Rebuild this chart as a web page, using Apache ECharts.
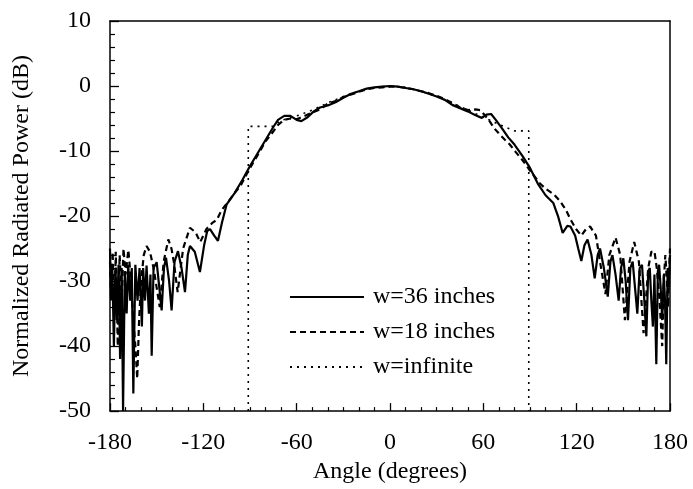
<!DOCTYPE html>
<html>
<head>
<meta charset="utf-8">
<script src="https://cdn.jsdelivr.net/npm/echarts@6/dist/echarts.min.js"></script>
<style>
html,body{margin:0;padding:0;background:#fff;}
#c{width:693px;height:489px;}
</style>
</head>
<body>
<div id="c"></div>
<script>
// Angle (deg), normalized power (dB)
var seriesNames = ['w=36 inches', 'w=18 inches', 'w=infinite'];
var xTicks = [-180, -120, -60, 0, 60, 120, 180];
var yTicks = [-50, -40, -30, -20, -10, 0, 10];

var w36 = [
  [-180,-25],[-179.3,-33],[-178.5,-28],[-177.5,-40],[-176.5,-28],[-175.5,-36],[-174.5,-27.5],
  [-173.5,-42],[-172.5,-28],[-171.6,-50],[-170.5,-28.5],[-169.3,-35],[-168.3,-27.5],[-167,-33],
  [-166,-28],[-165,-47.3],[-163.7,-27.5],[-162.3,-33],[-161,-28],[-159.5,-37],[-158.7,-28],
  [-157.5,-33],[-156.5,-27.6],[-155,-35],[-154,-29],[-153.2,-41.5],[-152,-28],[-150,-27.1],
  [-148.3,-31],[-146.8,-34.5],[-145.3,-28],[-144,-26.4],[-142,-30],[-140.4,-34.5],[-138.5,-27],
  [-136.3,-25.4],[-134,-28],[-131.8,-31.7],[-130,-26],[-128.6,-24.6],[-125.5,-25.5],
  [-122.2,-28.6],[-119.5,-24.5],[-117.5,-22.3],[-115.7,-22],[-113,-23],[-110.6,-23.8],
  [-108,-21],[-105,-18.2],[-100,-16.5],[-95,-14.5],[-90,-12.3],[-85,-10.3],[-80,-8.3],
  [-75,-6.3],[-72,-5.2],[-68,-4.6],[-64,-4.6],[-60,-5.2],[-57,-5.4],[-53,-4.8],[-49,-3.9],
  [-45,-3.3],[-40,-3.0],[-35,-2.5],[-30,-1.8],[-25,-1.2],[-20,-0.8],[-15,-0.4],[-10,-0.2],
  [-5,-0.1],[0,0],[5,-0.1],[10,-0.3],[15,-0.5],[20,-0.8],[25,-1.2],[30,-1.6],[35,-2.1],
  [40,-2.9],[45,-3.4],[50,-3.9],[55,-4.5],[59,-4.9],[62,-4.4],[65,-4.3],[68,-5.2],[72,-6.5],
  [76,-7.9],[80,-9.0],[85,-10.7],[90,-12.6],[95,-15],[100,-16.8],[105,-18],[108,-20],
  [111,-22.6],[114,-21.5],[116,-21.6],[119,-23],[121,-25],[123,-26.9],[125,-24.5],[127,-23.6],
  [129.5,-26],[131.6,-29.6],[133.5,-26],[135,-25],[137.5,-28],[140,-32.4],[141.7,-27],[143,-26],
  [145,-29],[147,-33],[148.5,-28],[150,-26.5],[151.5,-30],[153,-36],[154.5,-28],[156,-27],
  [157.5,-31],[159,-35],[160.5,-28],[162,-27.5],[163.5,-33],[164.8,-38.5],[166,-28.5],[167,-28],
  [168,-33],[169,-37],[170,-29],[171.2,-42.8],[172.2,-28.5],[173,-27.5],[174,-31],[175,-36],
  [176,-29],[176.8,-33],[177.6,-42.8],[178.5,-28],[179.3,-31],[180,-26]
];

var w18 = [
  [-180,-27],[-179.2,-33],[-178.3,-25.5],[-177.2,-36],[-176.3,-25.5],[-175,-40],[-173.8,-26],
  [-172.5,-33],[-171.3,-25],[-170,-29],[-168.2,-25.2],[-166.5,-30],[-165,-36],[-163.7,-40],
  [-162.5,-45],[-161.3,-36],[-160,-30],[-158.3,-26],[-156.5,-24.6],[-154.3,-25.5],[-152,-28],
  [-150,-31],[-148,-34],[-145.5,-27],[-142.5,-23.6],[-140.5,-25],[-139,-27],[-136.5,-31.7],
  [-133,-25],[-128.6,-21.8],[-125,-22.5],[-122,-24],[-118,-22],[-114,-21],[-111.4,-20.6],
  [-108,-19],[-104,-17.8],[-100,-16.5],[-96,-15.3],[-92,-13.5],[-88,-11.8],[-84,-10.2],
  [-80,-8.5],[-76,-7.3],[-72,-6],[-68,-5.2],[-64,-5],[-60,-5.1],[-55,-4.6],[-50,-4.1],
  [-45,-3.6],[-40,-2.7],[-35,-2.3],[-30,-1.7],[-25,-1.3],[-20,-0.9],[-15,-0.5],[-10,-0.3],
  [-5,-0.2],[0,-0.1],[5,-0.1],[10,-0.3],[15,-0.5],[20,-0.8],[25,-1.1],[30,-1.5],[35,-2.0],
  [40,-2.6],[45,-3.3],[50,-3.7],[55,-3.6],[58,-3.7],[61,-4.5],[64,-5.4],[67,-6.5],[70.7,-7.5],
  [74,-8.3],[77,-9],[81,-10.2],[85.5,-11.5],[90,-13],[96.4,-15],[100,-15.8],[105,-16.6],
  [109,-17.6],[113,-19],[116,-20.5],[119.6,-22],[123,-23],[126,-22],[128.6,-21.6],[131,-22.5],
  [132.4,-23],[135,-27],[138.5,-32],[141,-26],[145,-23.3],[148,-26],[151,-36],[154,-27],
  [157,-24],[160,-27],[163,-38],[166,-28],[168,-25.5],[170,-25.4],[171.5,-28],[173,-32],
  [174,-36],[175,-40],[176,-30],[177,-26],[178,-30],[178.8,-34],[179.5,-28],[180,-25]
];

var wInf = [
  [-91.1,-50],[-91.1,-6.2],[-75,-6.2],[-70,-5.3],[-60,-4.6],[-50,-3.7],[-40,-2.6],[-30,-1.6],
  [-20,-0.8],[-10,-0.2],[0,0],[10,-0.2],[20,-0.8],[30,-1.6],[40,-2.6],[50,-3.7],[60,-4.8],
  [70,-5.9],[80,-6.9],[89.2,-6.9],[89.2,-50]
];

var FONT = 'Liberation Serif';
var chart = echarts.init(document.getElementById('c'));
var common = {type:'line', symbol:'none', showSymbol:false, clip:true, animation:false};
chart.setOption({
  backgroundColor:'#fff',
  animation:false,
  grid:{left:110, right:23, top:21, bottom:72, show:false},
  legend:{
    orient:'vertical', left:284, top:280, itemWidth:74, itemHeight:14, itemGap:11,
    data:seriesNames,
    itemStyle:{opacity:0},
    textStyle:{fontFamily:FONT, fontSize:24, color:'#000', lineHeight:24, padding:[0,0,0,4]}
  },
  xAxis:[{
    type:'value', min:-180, max:180, interval:60,
    name:'Angle (degrees)', nameLocation:'middle', nameGap:43,
    nameTextStyle:{fontFamily:FONT, fontSize:24, color:'#000'},
    axisLine:{show:true, onZero:false, lineStyle:{color:'#000', width:1.5}},
    axisTick:{show:true, inside:true, length:8, lineStyle:{color:'#000', width:1.3}},
    minorTick:{show:true, splitNumber:6, length:4, lineStyle:{color:'#000', width:1.2}},
    axisLabel:{fontFamily:FONT, fontSize:24, color:'#000', margin:20,
      customValues: xTicks},
    splitLine:{show:false}
  },{
    type:'value', position:'top', min:-180, max:180, interval:60,
    axisLine:{show:true, onZero:false, lineStyle:{color:'#000', width:1.5}},
    axisTick:{show:false}, axisLabel:{show:false}, splitLine:{show:false}
  }],
  yAxis:[{
    type:'value', min:-50, max:10, interval:10,
    name:'Normalized Radiated Power (dB)', nameLocation:'middle', nameGap:76, nameRotate:90,
    nameTextStyle:{fontFamily:FONT, fontSize:24, color:'#000'},
    axisLine:{show:true, onZero:false, lineStyle:{color:'#000', width:1.5}},
    axisTick:{show:true, inside:true, length:9, lineStyle:{color:'#000', width:1.3}},
    minorTick:{show:true, splitNumber:5, length:5, lineStyle:{color:'#000', width:1.2}},
    axisLabel:{fontFamily:FONT, fontSize:24, color:'#000', margin:19,
      customValues: yTicks},
    splitLine:{show:false}
  },{
    type:'value', position:'right', min:-50, max:10, interval:10,
    axisLine:{show:true, onZero:false, lineStyle:{color:'#000', width:1.5}},
    axisTick:{show:false}, axisLabel:{show:false}, splitLine:{show:false}
  }],
  series:[
    Object.assign({name:seriesNames[0], data:w36,
      lineStyle:{color:'#000', width:2.2, type:'solid'}, itemStyle:{color:'#000'}}, common),
    Object.assign({name:seriesNames[1], data:w18,
      lineStyle:{color:'#000', width:2.2, type:[6,4]}, itemStyle:{color:'#000'}}, common),
    Object.assign({name:seriesNames[2], data:wInf,
      lineStyle:{color:'#000', width:1.6, type:[2,5]}, itemStyle:{color:'#000'}}, common)
  ]
});
</script>
</body>
</html>
